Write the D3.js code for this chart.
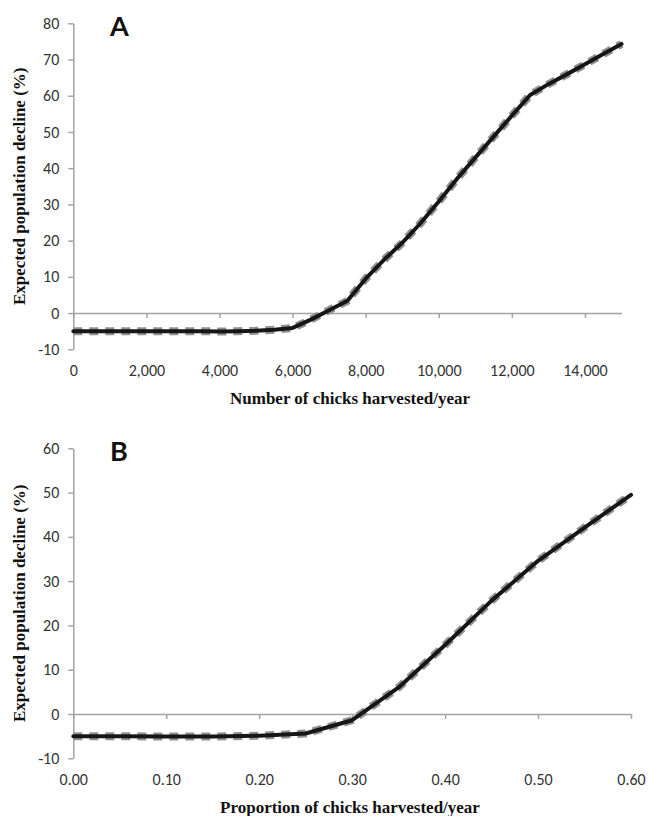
<!DOCTYPE html>
<html>
<head>
<meta charset="utf-8">
<script src="https://cdn.jsdelivr.net/npm/d3@7"></script>
<style>
  body { margin: 0; background: #fff; }
  .tick text { font-family: Carlito, Lato, sans-serif; font-size: 16px; fill: #333; }
  .ttl { font-family: "Liberation Serif", "Times New Roman", serif; font-weight: bold; font-size: 17px; fill: #111; }
  .panel { font-family: Lato, sans-serif; font-weight: bold; font-size: 27px; fill: #111; }
</style>
</head>
<body>
<div id="chart"></div>
<script>
// panel A: number of chicks harvested per year
var chicksA  = [0, 500, 1000, 1500, 2000, 2500, 3000, 3500, 4000, 4500, 5000, 5500, 6000, 6500, 7000,
                7500, 8000, 8500, 9000, 9500, 10000, 10500, 11000, 11500, 12000, 12500, 13000, 13500, 14000, 14500, 15000];
var declineA = [-5, -5, -5, -5, -5, -5, -5, -5, -5.1, -5, -4.9, -4.6, -4.1, -1.8, 0.8,
                3.4, 9.5, 14.7, 19.4, 24.8, 30.8, 37.1, 42.9, 48.7, 54.5, 60.2, 63.2, 65.9, 68.7, 71.5, 74.3];
var xTicksA = [0, 2000, 4000, 6000, 8000, 10000, 12000, 14000];
var yTicksA = [-10, 0, 10, 20, 30, 40, 50, 60, 70, 80];

// panel B: proportion of chicks harvested per year
var propB    = [0, 0.05, 0.10, 0.15, 0.20, 0.25, 0.30, 0.35, 0.40, 0.45, 0.50, 0.55, 0.60];
var declineB = [-5, -5, -5.1, -5.1, -4.9, -4.4, -1.4, 6.0, 15.6, 25.6, 34.6, 42.1, 49.5];
var xTicksB = [0, 0.1, 0.2, 0.3, 0.4, 0.5, 0.6];
var yTicksB = [-10, 0, 10, 20, 30, 40, 50, 60];

var W = 649, H = 816;
var axisColor = "#a3a3a3";

var svg = d3.select("#chart").append("svg")
    .attr("width", W)
    .attr("height", H);

function panel(opt) {
    var x = d3.scaleLinear().domain(opt.xDomain).range([73.3, opt.xRight]);
    var y = d3.scaleLinear().domain(opt.yDomain).range([opt.yBottom, opt.yTop]);
    var g = svg.append("g");

    // y axis (plain hyphen for negatives, like the original)
    var ya = g.append("g")
        .attr("transform", "translate(" + x(0) + ",0)")
        .call(d3.axisLeft(y).tickValues(opt.yTicks).tickSize(5).tickSizeOuter(0).tickPadding(9)
            .tickFormat(function(d) { return String(d); }));
    ya.selectAll("path, line").attr("stroke", axisColor).attr("stroke-width", 1.5);

    // x axis line on zero, ticks downward
    var xa = g.append("g")
        .attr("transform", "translate(0," + y(0) + ")")
        .call(d3.axisBottom(x).tickValues(opt.xTicks).tickSize(5).tickSizeOuter(0).tickFormat(""));
    xa.selectAll("path, line").attr("stroke", axisColor).attr("stroke-width", 1.5);

    // x tick labels at the bottom of the plot
    var xl = g.append("g")
        .attr("transform", "translate(0," + opt.yBottom + ")")
        .call(d3.axisBottom(x).tickValues(opt.xTicks).tickSize(0).tickPadding(15).tickFormat(opt.fmt));
    xl.select(".domain").remove();

    var line = d3.line()
        .x(function(d, i) { return x(opt.xs[i]); })
        .y(function(d) { return y(d); });

    g.append("path")
        .datum(opt.ys)
        .attr("d", line)
        .attr("fill", "none")
        .attr("stroke", "#929292")
        .attr("stroke-width", 8)
        .attr("stroke-dasharray", "9,7");

    g.append("path")
        .datum(opt.ys)
        .attr("d", line)
        .attr("fill", "none")
        .attr("stroke", "#161616")
        .attr("stroke-width", 4)
        .attr("stroke-linejoin", "round")
        .attr("stroke-linecap", "round");

    g.append("text").attr("class", "ttl")
        .attr("x", 350).attr("y", opt.yBottom + 55)
        .attr("text-anchor", "middle")
        .text(opt.xTitle);

    var cy = (opt.yTop + opt.yBottom) / 2;
    g.append("text").attr("class", "ttl")
        .attr("transform", "translate(25," + cy + ") rotate(-90)")
        .attr("text-anchor", "middle")
        .text("Expected population decline (%)");

    g.append("text").attr("class", "panel")
        .attr("x", 110).attr("y", opt.yTop + 13)
        .text(opt.label);
}

panel({
    xs: chicksA, ys: declineA,
    xDomain: [0, 15000], xRight: 621.5,
    yDomain: [-10, 80], yTop: 23.3, yBottom: 349.3,
    xTicks: xTicksA, yTicks: yTicksA,
    fmt: d3.format(","),
    xTitle: "Number of chicks harvested/year",
    label: "A"
});

panel({
    xs: propB, ys: declineB,
    xDomain: [0, 0.6], xRight: 631,
    yDomain: [-10, 60], yTop: 448.3, yBottom: 758.3,
    xTicks: xTicksB, yTicks: yTicksB,
    fmt: d3.format(".2f"),
    xTitle: "Proportion of chicks harvested/year",
    label: "B"
});
</script>
</body>
</html>
